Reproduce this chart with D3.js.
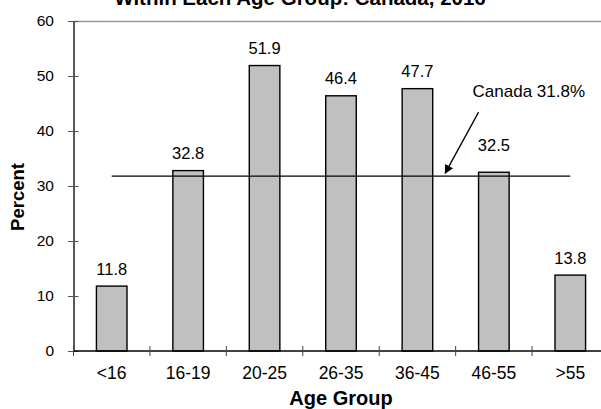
<!DOCTYPE html>
<html><head><meta charset="utf-8">
<script src="https://cdn.jsdelivr.net/npm/d3@7"></script>
<style>body{margin:0;background:#fff}svg{display:block}text{font-family:Arial,"Liberation Sans",sans-serif;fill:#000}</style>
</head><body>
<svg id="c" width="601" height="409"></svg>
<script>
const categories = ["<16","16-19","20-25","26-35","36-45","46-55",">55"];
const values = [11.8, 32.8, 51.9, 46.4, 47.7, 32.5, 13.8];
const yTicks = [0,10,20,30,40,50,60];
const canadaValue = 31.8;
const canadaLabel = "Canada 31.8%";
const title = "Within Each Age Group: Canada, 2016";
const xTitle = "Age Group";
const yTitle = "Percent";

(function(){
const svg = d3.select("#c");
const pL = 73.5, pR = 608.5, pT = 21, pB = 351;
const x = d3.scaleBand().domain(categories).range([pL, pR]).paddingInner(0.6).paddingOuter(0.3);
const y = d3.scaleLinear().domain([0, 60]).range([pB, pT]);
const step = x.step();

svg.append("text").attr("x", 300).attr("y", 4.5).attr("text-anchor","middle")
  .style("font-size","20.5px").style("font-weight","bold").text(title);

svg.append("line").attr("x1", pL).attr("x2", 601).attr("y1", y(60)+0.5).attr("y2", y(60)+0.5)
  .attr("stroke","#9a9a9a").attr("stroke-width",1.5);

svg.selectAll("rect.bar").data(values).enter().append("rect")
  .attr("x",(d,i)=>x(categories[i])).attr("y",d=>y(d))
  .attr("width",x.bandwidth()).attr("height",d=>y(0)-y(d))
  .attr("fill","#c0c0c0").attr("stroke","#000").attr("stroke-width",1.4);

const labelLift = {"46-55": 10};
svg.selectAll("text.val").data(values).enter().append("text")
  .attr("x",(d,i)=>x(categories[i])+x.bandwidth()/2)
  .attr("y",(d,i)=>y(d)-11.5-(labelLift[categories[i]]||0))
  .attr("text-anchor","middle").style("font-size","16.5px").text(d=>d.toFixed(1));

svg.append("line")
  .attr("x1", x(categories[0])+x.bandwidth()/2).attr("x2", x(categories[categories.length-1])+x.bandwidth()/2)
  .attr("y1", y(canadaValue)).attr("y2", y(canadaValue)).attr("stroke","#000").attr("stroke-width",1.3);

const yAxis = svg.append("g").attr("transform",`translate(${pL},0)`)
  .call(d3.axisLeft(y).tickValues(yTicks).tickSize(5.5).tickSizeOuter(0).tickPadding(14));
yAxis.select(".domain").attr("stroke","#000").attr("stroke-width",1.3);
yAxis.selectAll(".tick line").attr("stroke","#555").attr("x1",5).attr("x2",-5.5);
yAxis.selectAll(".tick text").style("font-size","15.5px").attr("fill","#000").style("font-family","Arial,'Liberation Sans',sans-serif");

const xAxis = svg.append("g").attr("transform",`translate(0,${pB})`)
  .call(d3.axisBottom(x).tickSize(0).tickPadding(16));
xAxis.select(".domain").remove();
svg.append("line").attr("x1",pL).attr("x2",601).attr("y1",pB).attr("y2",pB).attr("stroke","#000").attr("stroke-width",1.3);
const bounds = d3.range(categories.length).map(i => x(categories[i]) - step*x.paddingOuter());
svg.selectAll("line.xt").data(bounds).enter().append("line")
  .attr("x1",d=>d).attr("x2",d=>d).attr("y1",pB-5).attr("y2",pB+5).attr("stroke","#444").attr("stroke-width",1);
xAxis.selectAll(".tick text").style("font-size","17.5px").attr("fill","#000").style("font-family","Arial,'Liberation Sans',sans-serif");

svg.append("text").attr("x",(pL+pR)/2).attr("y",405).attr("text-anchor","middle")
  .style("font-size","20px").style("font-weight","bold").text(xTitle);
svg.append("text").attr("transform",`translate(24,197) rotate(-90)`).attr("text-anchor","middle")
  .style("font-size","18.5px").style("font-weight","bold").text(yTitle);

const defs = svg.append("defs");
defs.append("marker").attr("id","ah").attr("viewBox","0 0 10 10").attr("refX",9).attr("refY",5)
  .attr("markerWidth",9).attr("markerHeight",9).attr("markerUnits","userSpaceOnUse").attr("orient","auto")
  .append("path").attr("d","M0,0 L10,5 L0,10 z").attr("fill","#000");
const tipX = x("36-45") + x.bandwidth() + 12.5;
const tailX = x("46-55");
svg.append("line").attr("x1",tailX).attr("y1",y(canadaValue)-64).attr("x2",tipX).attr("y2",y(canadaValue)-3)
  .attr("stroke","#000").attr("stroke-width",1.3).attr("marker-end","url(#ah)");
svg.append("text").attr("x",tailX-6).attr("y",y(canadaValue)-79).style("font-size","17px").text(canadaLabel);
})();
</script>
</body></html>
